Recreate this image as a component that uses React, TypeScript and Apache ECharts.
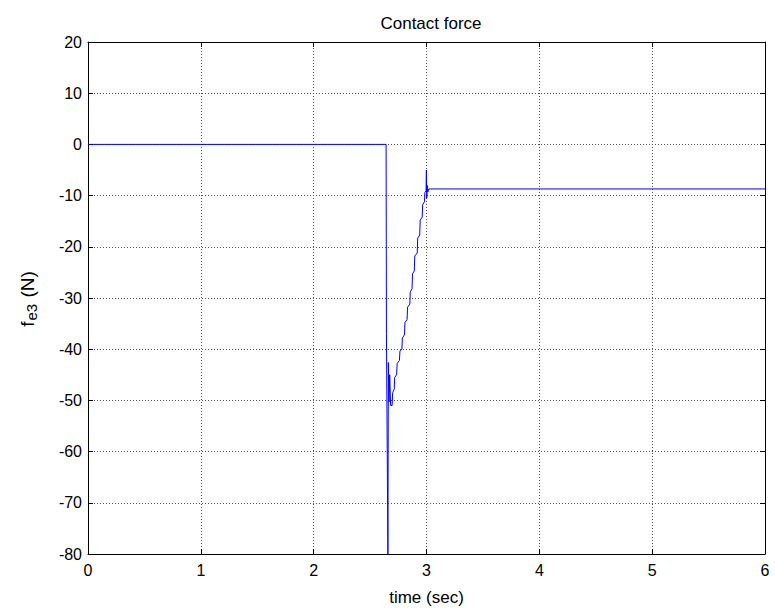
import React, { useEffect, useRef } from "react";
import * as echarts from "echarts";

const TITLE = "Contact force";
const X_LABEL = "time (sec)";
const X_TICKS = [0, 1, 2, 3, 4, 5, 6];
const Y_TICKS = [-80, -70, -60, -50, -40, -30, -20, -10, 0, 10, 20];

// time (s)
const tData = [
  0, 2.642, 2.645, 2.658, 2.662, 2.668, 2.674, 2.682, 2.695, 2.700,
  2.714, 2.718, 2.735, 2.740, 2.760, 2.765, 2.782, 2.786, 2.805, 2.809,
  2.828, 2.832, 2.852, 2.856, 2.872, 2.876, 2.892, 2.896, 2.918, 2.922,
  2.940, 2.944, 2.962, 2.966, 2.982, 2.986, 2.996, 2.999, 3.002, 3.006,
  3.012, 3.020, 6.0,
];
// contact force f_e3 (N)
const fData = [
  0, 0, -37, -80, -42.6, -50.3, -45, -51, -51, -48.5,
  -47.8, -45.5, -45, -42.8, -42.2, -40.3, -40, -37.8, -37.2, -34.8,
  -34.2, -31.8, -31.2, -28.8, -28.2, -25.3, -24.7, -21.8, -21.2, -18.3,
  -17.7, -14.8, -14.2, -11.8, -11.2, -9.4, -9, -5, -10.5, -8,
  -9.3, -8.7, -8.7,
];

const FONT = "'Liberation Sans', Arial, sans-serif";

export default function App() {
  const ref = useRef<HTMLDivElement>(null);
  useEffect(() => {
    if (!ref.current) return;
    const chart = echarts.init(ref.current, null, { renderer: "svg" });
    const gridLine = { show: true, lineStyle: { color: "#555", type: [1, 2] as any, width: 1 } };
    const axisLine = { show: true, onZero: false, lineStyle: { color: "#000", width: 1 } };
    const tick = { show: true, inside: true, length: 5, lineStyle: { color: "#000" } };
    chart.setOption({
      animation: false,
      backgroundColor: "#fff",
      title: {
        text: TITLE,
        left: 426,
        textAlign: "center",
        top: 10,
        textStyle: { fontFamily: FONT, fontSize: 17, fontWeight: "normal", color: "#000" },
      },
      graphic: [
        {
          type: "text",
          x: 27,
          y: 299,
          rotation: Math.PI / 2,
          style: {
            text: "{a|f}{b|e3}{a| (N)}",
            align: "center",
            verticalAlign: "middle",
            fill: "#000",
            rich: {
              a: { fontFamily: FONT, fontSize: 19, fill: "#000", lineHeight: 24, verticalAlign: "middle" },
              b: { fontFamily: FONT, fontSize: 15, fill: "#000", lineHeight: 24, verticalAlign: "bottom", padding: [10, 1, 0, 1] },
            },
          },
        },
      ],
      grid: { left: 88, right: 10, top: 42, bottom: 58, show: false },
      xAxis: [
        {
          type: "value",
          min: X_TICKS[0],
          max: X_TICKS[X_TICKS.length - 1],
          interval: 1,
          position: "bottom",
          name: X_LABEL,
          nameLocation: "middle",
          nameGap: 35,
          nameTextStyle: { fontFamily: FONT, fontSize: 17, color: "#000" },
          axisLine,
          axisTick: tick,
          axisLabel: { fontFamily: FONT, fontSize: 16, color: "#000", margin: 8 },
          splitLine: gridLine,
        },
        {
          type: "value",
          min: X_TICKS[0],
          max: X_TICKS[X_TICKS.length - 1],
          interval: 1,
          position: "top",
          axisLine,
          axisTick: tick,
          axisLabel: { show: false },
          splitLine: { show: false },
        },
      ],
      yAxis: [
        {
          type: "value",
          min: Y_TICKS[0],
          max: Y_TICKS[Y_TICKS.length - 1],
          interval: 10,
          position: "left",
          axisLine,
          axisTick: tick,
          axisLabel: { fontFamily: FONT, fontSize: 16, color: "#000", margin: 6 },
          splitLine: gridLine,
        },
        {
          type: "value",
          min: Y_TICKS[0],
          max: Y_TICKS[Y_TICKS.length - 1],
          interval: 10,
          position: "right",
          axisLine,
          axisTick: tick,
          axisLabel: { show: false },
          splitLine: { show: false },
        },
      ],
      series: [
        {
          type: "line",
          data: tData.map((t, i) => [t, fData[i]]),
          showSymbol: false,
          symbol: "none",
          lineStyle: { color: "#0000ff", width: 1 },
          clip: true,
        },
      ],
    });
    return () => chart.dispose();
  }, []);
  return <div ref={ref} style={{ width: 775, height: 612, position: "absolute", left: 0, top: 0 }} />;
}
